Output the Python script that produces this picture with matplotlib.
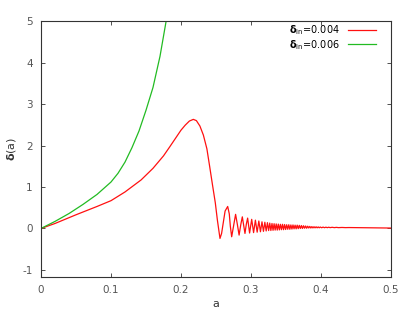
import matplotlib
matplotlib.use("Agg")
import matplotlib.pyplot as plt

plt.rcParams["axes.unicode_minus"] = False

# delta_in = 0.004 : smooth rise, collapse and first oscillations
red_a = [0.0, 0.02, 0.05, 0.08, 0.10, 0.12, 0.143, 0.16, 0.175, 0.184, 0.192,
         0.20, 0.206, 0.212, 0.2176, 0.222, 0.227, 0.232, 0.237, 0.241, 0.245,
         0.249, 0.252, 0.2557, 0.258, 0.2605, 0.263, 0.2667, 0.269, 0.2705,
         0.2724, 0.275, 0.278, 0.2805, 0.283, 0.2855, 0.2876, 0.2895, 0.2914,
         0.2933, 0.2952]
red_d = [0.0, 0.12, 0.33, 0.53, 0.67, 0.88, 1.17, 1.45, 1.75, 1.97, 2.17,
         2.37, 2.49, 2.59, 2.63, 2.60, 2.47, 2.25, 1.92, 1.49, 1.05,
         0.62, 0.2, -0.24, -0.12, 0.15, 0.42, 0.53, 0.35, 0.05,
         -0.2, 0.05, 0.34, 0.1, -0.16, 0.1, 0.28, 0.08, -0.12,
         0.1, 0.25]

# delta_in = 0.004 : fast decaying oscillation (extrema)
osc_a = [0.298, 0.301, 0.3037, 0.3063, 0.3088, 0.3112, 0.3135, 0.3157,
         0.3178, 0.3198, 0.3217, 0.3235, 0.3252, 0.3268, 0.3284, 0.330,
         0.3315, 0.333, 0.3345, 0.336, 0.3375, 0.339, 0.3405, 0.342,
         0.3435, 0.345, 0.3465, 0.348, 0.3495, 0.351, 0.3525, 0.354,
         0.3555, 0.357, 0.3585, 0.360, 0.3615, 0.363, 0.3645, 0.366,
         0.3675, 0.369, 0.3705, 0.372, 0.3735, 0.375, 0.3765, 0.378,
         0.3795, 0.381, 0.3825, 0.384, 0.3855, 0.387, 0.3885, 0.390,
         0.3915, 0.393, 0.3945, 0.396, 0.3975, 0.399, 0.401, 0.403,
         0.405, 0.407, 0.409, 0.411, 0.413, 0.416, 0.419, 0.422,
         0.425, 0.430, 0.435, 0.440, 0.450, 0.460, 0.470, 0.480,
         0.490, 0.500]
osc_d = [-0.11, 0.22, -0.10, 0.20, -0.09, 0.18, -0.08, 0.16,
         -0.07, 0.15, -0.06, 0.14, -0.05, 0.13, -0.05, 0.12,
         -0.045, 0.115, -0.04, 0.11, -0.04, 0.105, -0.035, 0.10,
         -0.03, 0.10, -0.03, 0.095, -0.025, 0.09, -0.02, 0.09,
         -0.02, 0.085, -0.015, 0.085, -0.01, 0.08, -0.01, 0.08,
         -0.005, 0.075, 0.0, 0.07, 0.0, 0.065, 0.005, 0.06,
         0.005, 0.055, 0.01, 0.05, 0.01, 0.045, 0.012, 0.042,
         0.014, 0.04, 0.015, 0.037, 0.016, 0.035, 0.017, 0.033,
         0.018, 0.031, 0.019, 0.03, 0.02, 0.028, 0.02, 0.026,
         0.02, 0.024, 0.02, 0.022, 0.02, 0.018, 0.016, 0.014,
         0.012, 0.01]

# delta_in = 0.006 : runs off the top of the plot
green_a = [0.0, 0.02, 0.04, 0.06, 0.08, 0.10, 0.11, 0.12, 0.13, 0.14,
           0.15, 0.16, 0.17, 0.18, 0.185]
green_d = [0.0, 0.17, 0.36, 0.58, 0.82, 1.12, 1.33, 1.6, 1.95, 2.35,
           2.85, 3.4, 4.15, 5.12, 5.7]

x_ticks = [0, 0.1, 0.2, 0.3, 0.4, 0.5]
x_labels = ["0", "0.1", "0.2", "0.3", "0.4", "0.5"]
y_ticks = [-1, 0, 1, 2, 3, 4, 5]

grey = "#555555"

fig = plt.figure(figsize=(4.02, 3.10), dpi=100)
ax = fig.add_axes([0.102, 0.1065, 0.8706, 0.8255])

ax.plot(red_a + osc_a, red_d + osc_d, color="#ff1010", lw=0.9,
        label=r"$\mathbf{\delta}_{\mathrm{in}}$=0.004")
ax.plot(green_a, green_d, color="#22bb22", lw=0.9,
        label=r"$\mathbf{\delta}_{\mathrm{in}}$=0.006")

ax.set_xlim(0, 0.5)
ax.set_ylim(-1.17, 5)
ax.set_xticks(x_ticks)
ax.set_xticklabels(x_labels)
ax.set_yticks(y_ticks)
ax.tick_params(direction="in", top=True, right=True, length=3, width=0.6,
               labelsize=7.5, labelcolor=grey, color="#333333", pad=6)
for s in ax.spines.values():
    s.set_color("#333333")
    s.set_linewidth(0.8)

ax.set_xlabel("a", fontsize=8, color="#333333", labelpad=3)
ax.set_ylabel(r"$\mathbf{\delta}$(a)", fontsize=8, color="#333333")
ax.yaxis.set_label_coords(-0.065, 0.5)

leg = ax.legend(loc="upper right", bbox_to_anchor=(0.963, 1.0),
                frameon=False, markerfirst=False, fontsize=7,
                handlelength=2.9, borderaxespad=0, borderpad=0.2,
                labelspacing=0.1, handletextpad=0.8)

fig.savefig("out.png", dpi=100)
